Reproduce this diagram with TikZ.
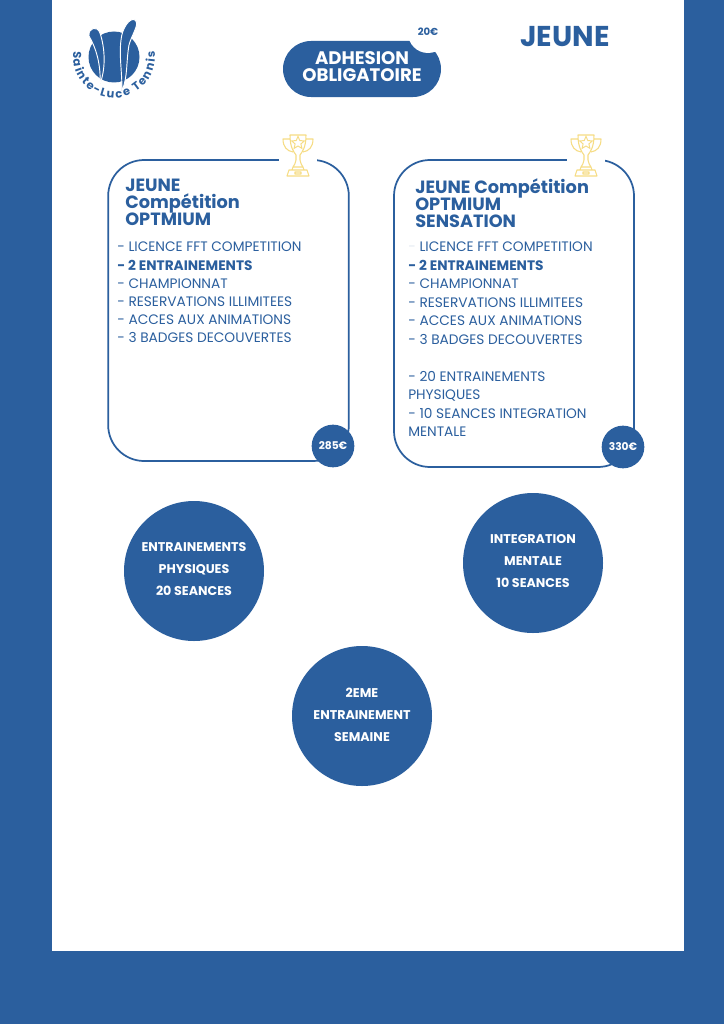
\documentclass[tikz,border=0pt]{standalone}
\usepackage{fontspec}
\setmainfont{Poppins}
\usetikzlibrary{shapes.geometric,decorations.text}
\definecolor{clubblue}{HTML}{2B5F9E}
\definecolor{cupyellow}{HTML}{F6DC84}
\definecolor{paledash}{HTML}{E4EAF2}
\setlength{\lineskiplimit}{-20pt}
\setlength{\normallineskiplimit}{-20pt}
\tikzset{
    trophy/.pic={
        \fill[white] (-19,-12) rectangle (19,21);
        \draw[cupyellow, line width=0.8pt, line join=round]
            (-8,-20) -- (8,-20) .. controls (8,-7) and (4,-3) .. (2,0)
            -- (2,5) .. controls (2,8) and (4,10) .. (5,12) -- (-5,12)
            .. controls (-4,10) and (-2,8) .. (-2,5) -- (-2,0)
            .. controls (-4,-3) and (-8,-7) .. (-8,-20) -- cycle
            (-8,-16) -- (-15,-16) .. controls (-15,-8) and (-11,-4) .. (-5,-3)
            (8,-16) -- (15,-16) .. controls (15,-8) and (11,-4) .. (5,-3)
            (-5,12) -- (-6,15) -- (6,15) -- (5,12)
            (-6,15) -- (-9,15) -- (-11,21) -- (11,21) -- (9,15) -- (6,15)
            (-3,17) rectangle (3,19);
        \node[star, star points=5, star point ratio=2.2, draw=cupyellow, line width=0.7pt, minimum size=10pt, inner sep=0pt] (-star) at (0,-12) {};
    }
}
\begin{document}
\begin{tikzpicture}[x=0.75pt, y=-0.75pt]
    \tikzstyle{card} = [draw=clubblue, line width=1.3pt, rounded corners=27pt, minimum width=180.5pt, inner sep=0pt]
    \tikzstyle{bubble} = [circle, fill=clubblue, text=white, minimum size=105pt, inner sep=0pt, align=center, text depth=2.5pt, font=\fontsize{9.5}{16.5}\selectfont\bfseries]
    \tikzstyle{price} = [circle, fill=clubblue, text=white, minimum size=32pt, inner sep=0pt, font=\fontsize{8}{9}\selectfont\bfseries]
    \tikzstyle{heading} = [anchor=north west, inner sep=0pt, align=left, text=clubblue, font=\fontsize{13.3}{12.8}\selectfont\bfseries]
    \tikzstyle{perks} = [anchor=north west, inner sep=0pt, align=left, text=clubblue, font=\fontsize{10.3}{13.85}\selectfont]

    \fill[clubblue] (0,0) rectangle (724,1024);
    \fill[white] (52,0) rectangle (684,951);
    \useasboundingbox (0,0) rectangle (724,1024);

    \fill[clubblue] (114,57) circle (25.5);
    \fill[clubblue, draw=white, line width=0.7pt] (89,36) .. controls (88,28) and (97,25) .. (100,33) .. controls (105,48) and (106,68) .. (100,84) .. controls (101,64) and (96,48) .. (89,36) -- cycle;
    \fill[clubblue, draw=white, line width=0.7pt] (121,40) .. controls (122,28) and (130,17) .. (135,20) .. controls (140,24) and (132,34) .. (129,45) .. controls (126,62) and (128,76) .. (122,91) .. controls (122,70) and (119,56) .. (121,40) -- cycle;
    \path[decorate, decoration={text along path, text align={fit to path}, text={|\fontsize{8.6}{10}\selectfont\bfseries\color{clubblue}|Sainte-Luce Tennis}}]
        (114,57) ++(188:41) arc[start angle=188, end angle=-8, radius=41];

    \fill[clubblue, rounded corners=21pt] (283,41) rectangle (441,97);
    \fill[white] (428,33) circle (20);
    \node[inner sep=0pt, align=center, text=white, font=\fontsize{13.6}{12.75}\selectfont\bfseries] (adhesion) at (362,67) {ADHESION\\OBLIGATOIRE};
    \node[inner sep=0pt, text=clubblue, font=\fontsize{7.6}{9}\selectfont\bfseries] (fee) at (428,32) {20€};
    \node[inner sep=0pt, text=clubblue, font=\fontsize{21.5}{22}\selectfont\bfseries] (title) at (565,37) {JEUNE};

    \node[card, minimum height=225.75pt] (optmium) at (228.5,310.5) {};
    \node[card, minimum height=230.25pt, minimum width=180pt] (sensation) at (514,313.5) {};

    \pic at (298,155) {trophy};
    \pic at (586,155) {trophy};

    \node[heading] (optmiumhead) at (125,179) {JEUNE\\Compétition\\OPTMIUM};
    \node[heading] (sensationhead) at (415,178) {JEUNE Compétition\\OPTMIUM\\SENSATION};

    \node[perks, font=\fontsize{10.3}{13.65}\selectfont] (optmiumlist) at (117,242) {- LICENCE FFT COMPETITION\\\textbf{- 2 ENTRAINEMENTS}\\- CHAMPIONNAT\\- RESERVATIONS ILLIMITEES\\- ACCES AUX ANIMATIONS\\- 3 BADGES DECOUVERTES};
    \node[perks] (sensationlist) at (408,242) {\textcolor{paledash}{-} LICENCE FFT COMPETITION\\\textbf{- 2 ENTRAINEMENTS}\\- CHAMPIONNAT\\- RESERVATIONS ILLIMITEES\\- ACCES AUX ANIMATIONS\\- 3 BADGES DECOUVERTES\\[13.85pt]- 20 ENTRAINEMENTS\\PHYSIQUES\\- 10 SEANCES INTEGRATION\\MENTALE};

    \node[price] (priceone) at (333,446) {285€};
    \node[price] (pricetwo) at (623,447) {330€};

    \node[bubble] (physique) at (194,571) {ENTRAINEMENTS\\PHYSIQUES\\20 SEANCES};
    \node[bubble] (mentale) at (533,563) {INTEGRATION\\MENTALE\\10 SEANCES};
    \node[bubble] (semaine) at (362,716) {2EME\\ENTRAINEMENT\\SEMAINE};
\end{tikzpicture}
\end{document}
